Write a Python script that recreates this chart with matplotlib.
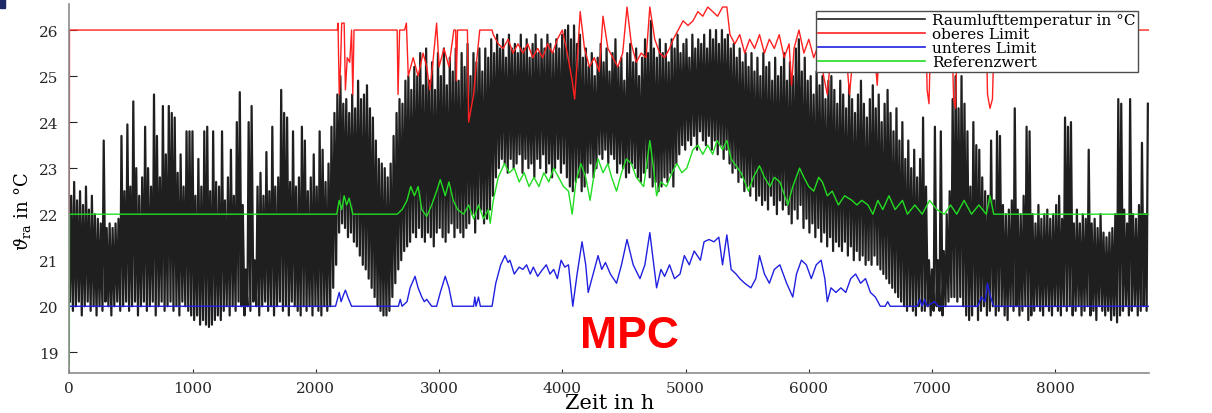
import numpy as np
import matplotlib.pyplot as plt
from matplotlib.patches import Rectangle

# daily peaks / lows of the room air temperature (day 0..364)
room_max = [
    22.4, 22.7, 22.3, 22.5, 22.2, 22.6, 22.1, 22.4, 22.0, 21.9,
    21.8, 23.6, 21.7, 21.8, 21.7, 21.8, 21.9, 23.7, 22.5, 23.95,
    22.6, 24.45, 23.0, 22.4, 22.8, 23.9, 23.0, 22.6, 24.6, 23.7,
    22.8, 24.35, 23.3, 24.35, 24.2, 24.1, 22.9, 23.3, 22.6, 23.8,
    23.8, 23.8, 22.4, 23.2, 22.6, 23.8, 23.9, 22.5, 23.8, 22.7,
    22.6, 23.8, 22.3, 22.8, 23.4, 22.4, 24.0, 24.65, 22.2, 20.8,
    24.0, 24.35, 21.0, 22.6, 22.9, 22.4, 23.35, 22.5, 23.9, 22.6,
    22.8, 24.7, 24.2, 24.1, 22.7, 23.8, 22.6, 22.8, 23.9, 23.6,
    22.5, 22.8, 23.3, 22.6, 23.8, 23.4, 22.7, 23.1, 23.9, 24.2,
    24.6, 25.0, 24.4, 24.5, 24.2, 24.6, 24.3, 24.9, 24.5, 24.6,
    24.8, 24.3, 24.1, 23.6, 23.2, 23.1, 23.0, 22.8, 23.1, 23.7,
    24.2, 24.5, 24.4, 24.9, 25.0, 24.7, 25.2, 25.0, 25.5, 24.8,
    25.6, 24.9, 25.3, 24.7, 25.5, 25.0, 25.6, 24.8, 25.4, 25.1,
    25.6, 24.9, 25.5, 25.2, 25.7, 25.0, 25.5, 25.3, 25.6, 25.1,
    25.6, 25.4, 25.8, 25.5, 25.9, 25.6, 25.8, 25.4, 25.9, 25.6,
    25.7, 25.5, 25.9, 25.6, 25.8, 25.4, 25.7, 25.9, 25.5, 25.8,
    25.6, 25.9, 25.7, 25.5, 25.8, 25.6, 25.9, 26.0, 26.1, 25.8,
    26.1, 25.7, 25.9, 25.4, 25.6, 25.2, 25.5, 25.0, 25.4, 25.7,
    25.3, 25.6, 25.1, 25.5, 25.8, 25.2, 25.4, 24.9, 25.5, 25.7,
    25.3, 25.6, 25.0, 25.4, 25.8, 25.5, 26.2, 25.6, 25.4, 25.8,
    25.5, 25.7, 25.3, 25.8, 25.6, 25.9, 25.5, 25.7, 25.8, 25.4,
    25.9, 25.6, 25.8, 25.7, 25.9, 25.6, 26.0, 25.8, 26.0, 25.7,
    26.0, 25.8, 25.9, 25.6, 25.7, 25.4, 25.6, 25.3, 25.5, 25.2,
    25.5, 25.1, 25.4, 25.0, 25.5, 25.2, 25.3, 24.9, 25.4, 25.0,
    25.2, 25.5, 24.9, 25.3, 25.0, 25.6, 25.8, 25.1, 25.4, 24.9,
    25.0, 24.6, 25.1, 24.8, 25.0, 24.5, 24.9, 25.0, 24.7, 24.4,
    24.9, 24.6, 24.3, 24.8, 24.5, 24.2, 24.6, 24.9, 24.4, 24.1,
    24.5, 24.8, 24.3, 24.6, 24.0, 24.4, 24.7, 24.2, 23.8, 24.3,
    23.6, 24.0, 23.2, 23.6, 23.0, 23.4, 22.8, 23.2, 24.1, 22.6,
    21.0, 20.8, 23.9, 21.0, 23.8, 21.2, 22.0, 22.5, 24.5, 25.0,
    24.3, 25.0, 24.4, 23.8, 22.6, 24.0, 23.5, 23.4, 22.8, 22.5,
    22.4, 23.6, 22.3, 23.8, 23.7, 22.2, 22.0, 22.1, 22.3, 24.3,
    22.1, 22.0, 22.4, 23.9, 23.8, 22.0, 21.8, 22.2, 21.9, 22.0,
    22.1, 21.9, 22.0, 22.2, 22.4, 21.9, 24.1, 23.9, 24.0, 21.8,
    22.1, 21.8, 22.0, 21.9, 23.4, 21.8, 21.9, 21.7, 22.0, 21.6,
    21.5, 21.6, 21.7, 22.0, 24.5, 24.4, 22.1, 21.8, 24.5, 22.0,
    21.9, 22.2, 23.55, 22.0, 24.4,
]
room_min = [
    20.1, 19.9, 20.0, 20.1, 19.8, 20.0, 20.1, 19.9, 20.0, 19.8,
    20.0, 19.9, 20.1, 20.0, 19.8, 20.0, 20.1, 19.9, 20.0, 20.1,
    19.9, 20.0, 20.1, 19.8, 20.0, 20.1, 19.9, 20.0, 20.1, 19.8,
    20.0, 20.1, 19.9, 20.0, 20.1, 19.9, 20.0, 19.8, 20.1, 20.0,
    19.9, 19.8, 19.7, 19.8, 19.6, 19.7, 19.6, 19.55, 19.6, 19.7,
    19.8, 19.7, 19.9, 20.0, 19.8, 20.0, 19.9, 20.1, 20.0, 19.8,
    20.0, 19.9, 20.1, 20.0, 19.8, 20.0, 20.1, 19.9, 20.0, 19.8,
    20.0, 20.1, 19.9, 20.0, 19.8, 20.1, 20.0, 19.9, 19.8, 20.0,
    19.9, 20.0, 19.8, 20.0, 19.9, 19.8, 20.0, 19.9, 20.0, 20.4,
    20.9, 21.6, 21.8, 21.7, 21.5, 21.6, 21.4, 21.3, 21.1, 20.9,
    20.8, 20.6, 20.4, 20.2, 20.0, 19.9, 19.8, 19.8, 19.9, 20.2,
    20.5, 20.8, 21.0, 21.2, 21.3, 21.4, 21.6, 21.5, 21.7, 21.5,
    21.4, 21.6, 21.5, 21.3, 21.6, 21.7, 21.5, 21.4, 21.6, 21.8,
    21.5, 21.7, 21.6, 21.5, 21.7, 21.8, 22.0, 21.6, 21.9, 22.1,
    21.8, 21.9, 22.1, 22.4, 22.8, 23.0, 23.2, 23.1, 22.9, 23.2,
    23.0, 23.1, 23.3, 22.9, 23.2, 23.0, 23.1, 22.8, 23.2, 23.0,
    23.3, 22.9, 23.1, 22.8, 23.0, 23.2, 22.9, 23.1, 22.8, 22.6,
    22.5, 22.7, 22.8, 22.5, 22.6, 22.9, 23.1, 22.8, 23.0, 23.3,
    23.2, 23.4, 23.1, 23.3, 23.2, 22.9, 23.1, 23.0, 22.8, 22.9,
    23.1, 23.0, 22.8, 22.7, 22.9, 23.0, 22.8, 22.6, 22.7, 22.5,
    22.6, 22.8, 22.7, 22.9, 22.6, 23.1, 23.3, 23.5, 23.4, 23.6,
    23.5, 23.7, 23.4, 23.8, 23.6, 23.5, 23.7, 23.4, 23.6, 23.3,
    23.5, 23.2, 23.4, 23.1, 22.9, 23.0, 22.7, 22.8, 22.5, 22.6,
    22.4, 22.6, 22.3, 22.4, 22.2, 22.3, 22.1, 22.4, 22.2, 22.0,
    22.3, 22.1, 22.2, 22.0, 21.8, 22.1, 21.9, 22.2, 21.7, 21.9,
    21.6, 21.8, 21.5, 21.7, 21.4, 21.6, 21.3, 21.5, 21.2, 21.4,
    21.3, 21.2, 21.4, 21.1, 21.3, 21.0, 21.2, 21.0, 21.1, 20.9,
    21.0, 20.9, 21.1, 20.9, 20.8, 20.7, 20.6, 20.5, 20.4, 20.3,
    20.2, 20.1, 20.0, 19.9, 20.0, 19.9, 19.8, 20.0, 19.9, 19.9,
    20.0, 19.8, 19.9, 20.0, 19.9, 19.8, 20.0, 20.1, 20.2, 20.2,
    20.1, 20.2, 20.0, 19.8, 19.7, 19.8, 20.0, 19.7, 19.9, 20.0,
    19.8, 19.9, 20.0, 19.8, 19.9, 20.0, 19.8, 19.7, 20.0, 19.9,
    20.0, 19.8, 19.9, 20.0, 19.7, 19.8, 19.9, 20.0, 19.9, 19.8,
    20.0, 19.9, 19.8, 20.0, 19.9, 19.8, 20.0, 19.9, 20.0, 19.8,
    19.9, 20.0, 19.8, 19.9, 20.0, 19.8, 19.9, 19.7, 20.0, 19.9,
    19.8, 19.9, 19.7, 19.8, 19.65, 19.8, 19.9, 20.0, 19.8, 19.9,
    20.0, 19.8, 19.9, 20.0, 19.9,
]

# oberes Limit (h, degC)
upper_t = [0, 1, 2175, 2180, 2190, 2200, 2210, 2230, 2240, 2255, 2275, 2290, 2300, 2310,
           2660, 2667, 2680, 2720, 2735, 2750, 2790, 2830, 2870, 2900, 2925, 2950, 2980,
           3000, 3040, 3080, 3120, 3135, 3140, 3150, 3230, 3240, 3280, 3300, 3330, 3430,
           3440, 3480, 3520, 3560, 3600, 3640, 3680, 3720, 3760, 3800, 3840, 3880, 3920,
           3960, 4000, 4040, 4080, 4100, 4120, 4145, 4180, 4220, 4260, 4300, 4330, 4370,
           4410, 4450, 4490, 4525, 4560, 4600, 4640, 4680, 4710, 4750, 4790, 4830, 4870,
           4900, 4940, 4980, 5020, 5060, 5100, 5140, 5180, 5220, 5260, 5300, 5335, 5360,
           5400, 5440, 5480, 5520, 5560, 5600, 5640, 5680, 5720, 5760, 5800, 5840, 5860,
           5880, 5920, 5960, 6000, 6040, 6080, 6120, 6150, 6180, 6220, 6260, 6300, 6330,
           6360, 6400, 6440, 6480, 6520, 6555, 6580, 6950, 6960, 6975, 6990, 7160, 7175,
           7190, 7205, 7440, 7450, 7470, 7490, 7505, 8760]
upper_v = [22.0, 26.0, 26.0, 26.15, 24.6, 25.2, 26.15, 26.15, 24.7, 25.4, 25.3, 26.0, 24.6, 26.0,
           26.0, 24.6, 26.0, 26.0, 26.15, 25.0, 25.4, 25.0, 25.5, 25.2, 24.7, 25.3, 26.15,
           25.2, 25.6, 25.2, 26.0, 26.0, 24.9, 26.0, 26.0, 24.0, 24.6, 25.2, 26.0, 26.0,
           25.9, 25.7, 25.6, 25.8, 25.5, 25.7, 25.5, 25.7, 25.4, 25.6, 25.4, 25.7, 25.5,
           25.8, 26.0, 25.5, 24.9, 24.5, 25.3, 26.4, 25.6, 25.2, 25.4, 25.1, 26.3, 25.6,
           25.4, 25.2, 25.5, 26.5, 25.7, 25.3, 25.5, 25.4, 26.5, 25.8, 25.5, 25.4, 25.6,
           25.8, 26.0, 26.2, 26.1, 26.2, 26.4, 26.3, 26.5, 26.4, 26.3, 26.5, 26.5, 25.9,
           25.7, 25.9, 25.5, 25.8, 25.6, 25.9, 25.5, 25.8, 25.6, 25.9, 25.4, 25.7, 24.8,
           25.6, 26.0, 25.5, 25.8, 25.4, 25.7, 25.0, 24.6, 25.5, 25.8, 25.3, 25.6, 24.6,
           25.5, 25.8, 25.6, 25.9, 26.0, 24.8, 26.0, 26.0, 24.7, 24.4, 26.0, 26.0, 24.5,
           24.3, 26.0, 26.0, 24.6, 24.3, 24.5, 26.0, 26.0]

# unteres Limit (h, degC)
lower_t = [0, 2160, 2175, 2190, 2205, 2225, 2240, 2260, 2290, 2670, 2685, 2700, 2740, 2765,
           2805, 2830, 2860, 2880, 2900, 2940, 2980, 3010, 3050, 3080, 3110, 3280, 3290,
           3300, 3320, 3335, 3430, 3460, 3500, 3535, 3560, 3575, 3610, 3650, 3680, 3710,
           3740, 3765, 3800, 3840, 3870, 3900, 3930, 3960, 3990, 4020, 4050, 4085, 4120,
           4160, 4190, 4210, 4250, 4290, 4320, 4350, 4390, 4440, 4480, 4525, 4575, 4630,
           4670, 4710, 4765, 4800, 4830, 4870, 4910, 4955, 4990, 5030, 5070, 5120, 5150,
           5190, 5230, 5270, 5300, 5335, 5370, 5410, 5440, 5480, 5530, 5570, 5600, 5640,
           5680, 5720, 5765, 5820, 5870, 5900, 5940, 5980, 6020, 6060, 6100, 6130, 6150,
           6180, 6220, 6260, 6300, 6340, 6380, 6420, 6460, 6500, 6540, 6580, 6620, 6640,
           6660, 6880, 6900, 6920, 6940, 6960, 7020, 7050, 7370, 7400, 7430, 7450, 7475,
           7500, 8760]
lower_v = [20.0, 20.0, 20.15, 20.3, 20.1, 20.25, 20.35, 20.2, 20.0, 20.0, 20.15, 20.0, 20.1, 20.4,
           20.65, 20.4, 20.2, 20.1, 20.15, 20.0, 20.0, 20.3, 20.65, 20.4, 20.0, 20.0, 20.2,
           20.0, 20.2, 20.0, 20.0, 20.5, 20.9, 21.1, 20.95, 21.0, 20.7, 20.85, 20.8, 20.9,
           20.7, 20.85, 20.65, 20.8, 20.9, 20.7, 20.8, 20.6, 21.0, 20.85, 20.9, 20.0, 20.7,
           21.4, 20.9, 20.3, 20.7, 21.1, 20.8, 20.95, 20.7, 20.5, 20.9, 21.45, 20.9, 20.6,
           20.9, 21.6, 20.4, 20.8, 20.65, 20.9, 20.6, 20.7, 21.1, 20.9, 21.2, 21.0, 21.4,
           21.45, 21.4, 21.5, 20.9, 21.55, 20.8, 20.7, 20.6, 20.5, 20.4, 20.6, 21.1, 20.7,
           20.5, 20.8, 20.9, 20.5, 20.2, 20.7, 21.0, 20.9, 20.6, 20.9, 21.0, 20.6, 20.1,
           20.4, 20.3, 20.4, 20.3, 20.6, 20.7, 20.5, 20.6, 20.3, 20.2, 20.0, 20.0, 20.1,
           20.0, 20.0, 20.15, 20.0, 20.15, 20.0, 20.1, 20.0, 20.0, 20.2, 20.1, 20.5, 20.2,
           20.0, 20.0]

# Referenzwert (h, degC)
ref_t = [0, 1, 2170, 2190, 2210, 2230, 2250, 2270, 2300, 2660, 2700, 2740, 2770, 2800, 2830,
         2860, 2900, 2940, 2980, 3010, 3050, 3080, 3115, 3150, 3200, 3240, 3280, 3320, 3360,
         3400, 3415, 3440, 3480, 3530, 3570, 3610, 3650, 3690, 3730, 3770, 3810, 3850, 3890,
         3930, 3970, 4010, 4050, 4080, 4110, 4150, 4190, 4225, 4260, 4290, 4330, 4370, 4400,
         4440, 4480, 4520, 4560, 4600, 4660, 4710, 4740, 4765, 4800, 4845, 4890, 4930, 4970,
         5010, 5060, 5100, 5140, 5180, 5220, 5255, 5300, 5335, 5370, 5410, 5450, 5510, 5550,
         5600, 5640, 5685, 5720, 5765, 5830, 5870, 5925, 5960, 6000, 6040, 6080, 6110, 6150,
         6190, 6240, 6290, 6350, 6390, 6430, 6480, 6520, 6560, 6600, 6650, 6700, 6760, 6800,
         6860, 6920, 6980, 7040, 7100, 7150, 7200, 7260, 7320, 7380, 7440, 7470, 7500, 8760]
ref_v = [18.7, 22.0, 22.0, 22.3, 22.1, 22.4, 22.2, 22.35, 22.0, 22.0, 22.1, 22.3, 22.6, 22.4, 22.6,
         22.1, 21.95, 22.2, 22.5, 22.75, 22.4, 22.7, 22.3, 22.1, 22.0, 22.2, 21.9, 22.2, 21.9,
         22.1, 21.8, 22.3, 22.8, 23.1, 22.9, 23.0, 22.7, 22.9, 22.6, 22.8, 22.6, 22.9, 22.7,
         23.0, 22.8, 22.6, 22.5, 22.0, 22.7, 23.1, 22.8, 22.3, 22.9, 23.2, 22.9, 23.1, 22.8,
         22.5, 22.9, 23.2, 23.1, 22.8, 22.6, 23.6, 23.0, 22.4, 22.7, 22.6, 22.9, 23.1, 22.9,
         23.0, 23.4, 23.5, 23.3, 23.5, 23.3, 23.6, 23.4, 23.6, 23.2, 23.05, 22.9, 22.5, 22.8,
         23.05, 22.8, 22.6, 22.8, 22.7, 22.2, 22.6, 23.0, 22.8, 22.6, 22.5, 22.8, 22.7, 22.4,
         22.5, 22.2, 22.4, 22.3, 22.2, 22.3, 22.2, 22.0, 22.3, 22.1, 22.4, 22.1, 22.3, 22.0,
         22.2, 22.0, 22.3, 22.1, 22.0, 22.2, 22.0, 22.3, 22.0, 22.2, 22.0, 22.4, 22.0, 22.0]

# one low (early morning) and one high (afternoon) per day
days = np.arange(len(room_max))
room_t = np.column_stack([days * 24 + 5, days * 24 + 15]).ravel()
room_v = np.column_stack([room_min, room_max]).ravel()

plt.rcParams["font.family"] = "DejaVu Serif"
plt.rcParams["mathtext.fontset"] = "dejavuserif"

fig = plt.figure(figsize=(12.12, 4.14), dpi=100)
ax = fig.add_axes([0.0572, 0.0966, 0.8908, 0.8918])

ax.plot(room_t, room_v, color="0.12", lw=1.6, label="Raumlufttemperatur in °C")
ax.plot(upper_t, upper_v, color="#ff2020", lw=1.0, label="oberes Limit")
ax.plot(lower_t, lower_v, color="#2020e0", lw=1.0, label="unteres Limit")
ax.plot(ref_t, ref_v, color="#22dd22", lw=1.0, label="Referenzwert")

ax.set_xlim(0, 8760)
ax.set_ylim(18.55, 26.57)
ax.set_xticks(range(0, 8001, 1000))
ax.set_yticks(range(19, 27))
ax.tick_params(axis="both", direction="in", labelsize=11, colors="0.15")
ax.tick_params(axis="y", length=6, pad=8)
ax.tick_params(axis="x", length=3, pad=6)
for side in ["top", "right"]:
    ax.spines[side].set_visible(False)
for side in ["left", "bottom"]:
    ax.spines[side].set_color("0.55")
    ax.spines[side].set_linewidth(1.2)

ax.set_xlabel("Zeit in h", fontsize=15, labelpad=-2)
ax.set_ylabel(r"$\vartheta_{\mathrm{ra}}$ in °C", fontsize=13)
ax.yaxis.set_label_coords(-0.034, 0.44)

leg = ax.legend(loc="upper right", bbox_to_anchor=(0.99, 0.98), fontsize=11,
                frameon=True, fancybox=False, framealpha=1, edgecolor="0.3",
                labelspacing=0.0, handlelength=7.0, handletextpad=0.5,
                borderpad=0.15, borderaxespad=0)
leg.get_frame().set_linewidth(1.0)
for line in leg.get_lines():
    line.set_linewidth(1.2)

fig.text(580 / 1212, 1 - 348 / 414, "MPC", color="#ff0000", fontsize=32,
         fontweight="bold", family="Liberation Sans", ha="left", va="baseline")

# small dark mark in the top left corner of the screenshot
fig.patches.append(Rectangle((0, 1 - 9 / 414), 5 / 1212, 9 / 414,
                             transform=fig.transFigure, color="#1c2a6a"))

fig.savefig("out.png", dpi=100)
